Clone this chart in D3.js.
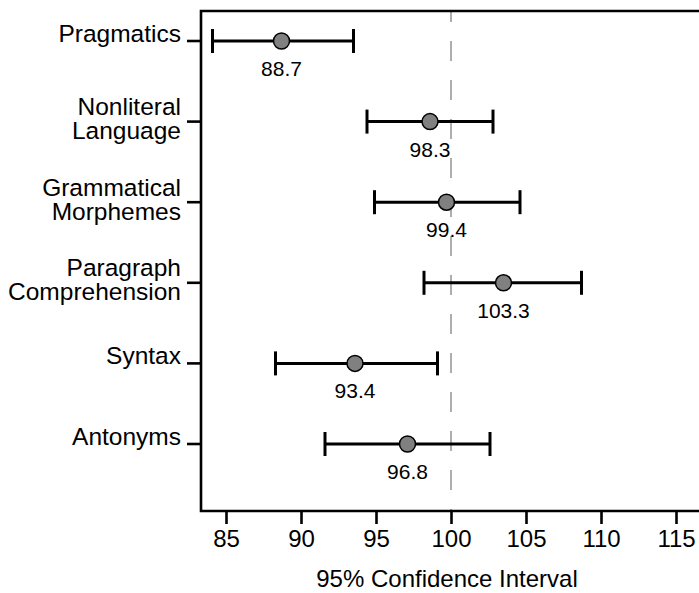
<!DOCTYPE html>
<html>
<head>
<meta charset="utf-8">
<script src="https://cdn.jsdelivr.net/npm/d3@7"></script>
<style>
  html, body { margin: 0; padding: 0; background: #fff; }
  svg { display: block; font-family: "Liberation Sans", Arial, Helvetica, sans-serif; }
</style>
</head>
<body>
<svg id="chart" width="699" height="593"></svg>
<script>
// ---- data ----
const categories = [
  ["Pragmatics"],
  ["Nonliteral", "Language"],
  ["Grammatical", "Morphemes"],
  ["Paragraph", "Comprehension"],
  ["Syntax"],
  ["Antonyms"]
];
const pointValues = [88.7, 98.6, 99.7, 103.5, 93.6, 97.1];
const lowerCI    = [84.1, 94.4, 94.9, 98.2, 88.3, 91.6];
const upperCI    = [93.5, 102.8, 104.6, 108.7, 99.1, 102.6];
const valueLabels = ["88.7", "98.3", "99.4", "103.3", "93.4", "96.8"];
const xTicks = [85, 90, 95, 100, 105, 110, 115];
const referenceValue = 100;
const xTitle = "95% Confidence Interval";

// ---- layout ----
const svg = d3.select("#chart");
const plotLeft = 201, plotTop = 11, plotBottom = 511, plotRight = 699;

const x = d3.scaleLinear().domain([85, 100]).range([226, 451]);
const y = d3.scalePoint().domain(d3.range(categories.length)).range([41, 444]);

// dashed reference line
svg.append("line")
  .attr("x1", x(referenceValue)).attr("x2", x(referenceValue))
  .attr("y1", plotTop + 1).attr("y2", plotBottom)
  .attr("stroke", "#9a9a9a").attr("stroke-width", 1.6)
  .attr("stroke-dasharray", "20,19").attr("stroke-dashoffset", 10);

// frame: left, top, bottom
svg.append("path")
  .attr("d", `M${plotRight},${plotTop}H${plotLeft}V${plotBottom}H${plotRight}`)
  .attr("fill", "none").attr("stroke", "#000").attr("stroke-width", 2.6);

// x axis ticks
const xAxis = d3.axisBottom(x).tickValues(xTicks).tickSize(13).tickPadding(6).tickFormat(d3.format("d"));
const gx = svg.append("g").attr("transform", `translate(0,${plotBottom})`).call(xAxis);
gx.select(".domain").remove();
gx.selectAll(".tick line").attr("stroke", "#000").attr("stroke-width", 2.6);
gx.selectAll(".tick text").attr("fill", "#000").style("font-size", "24px")
  .style("font-family", "'Liberation Sans', Arial, sans-serif");

// x title
svg.append("text")
  .attr("x", 447).attr("y", 587)
  .attr("text-anchor", "middle")
  .style("font-size", "24px")
  .text(xTitle);

// y axis ticks and labels
const gy = svg.append("g");
categories.forEach((lines, i) => {
  const yy = y(i);
  gy.append("line")
    .attr("x1", plotLeft - 14).attr("x2", plotLeft)
    .attr("y1", yy).attr("y2", yy)
    .attr("stroke", "#000").attr("stroke-width", 2.6);
  const t = gy.append("text")
    .attr("text-anchor", "end")
    .style("font-size", "24.5px");
  if (lines.length === 1) {
    t.append("tspan").attr("x", 181).attr("y", yy + 1).text(lines[0]);
  } else {
    t.append("tspan").attr("x", 181).attr("y", yy - 6.5).text(lines[0]);
    t.append("tspan").attr("x", 181).attr("y", yy + 17.5).text(lines[1]);
  }
});

// error bars
const rows = svg.append("g").selectAll("g")
  .data(categories.map((c, i) => i))
  .join("g");

rows.append("line")
  .attr("x1", i => x(lowerCI[i])).attr("x2", i => x(upperCI[i]))
  .attr("y1", i => y(i)).attr("y2", i => y(i))
  .attr("stroke", "#000").attr("stroke-width", 3);
rows.append("line")
  .attr("x1", i => x(lowerCI[i])).attr("x2", i => x(lowerCI[i]))
  .attr("y1", i => y(i) - 12).attr("y2", i => y(i) + 12)
  .attr("stroke", "#000").attr("stroke-width", 3);
rows.append("line")
  .attr("x1", i => x(upperCI[i])).attr("x2", i => x(upperCI[i]))
  .attr("y1", i => y(i) - 12).attr("y2", i => y(i) + 12)
  .attr("stroke", "#000").attr("stroke-width", 3);
rows.append("circle")
  .attr("cx", i => x(pointValues[i])).attr("cy", i => y(i))
  .attr("r", 8)
  .attr("fill", "#808080").attr("stroke", "#000").attr("stroke-width", 1.5);
rows.append("text")
  .attr("x", i => x(pointValues[i])).attr("y", i => y(i) + 35)
  .attr("text-anchor", "middle")
  .style("font-size", "21px")
  .text(i => valueLabels[i]);
</script>
</body>
</html>
